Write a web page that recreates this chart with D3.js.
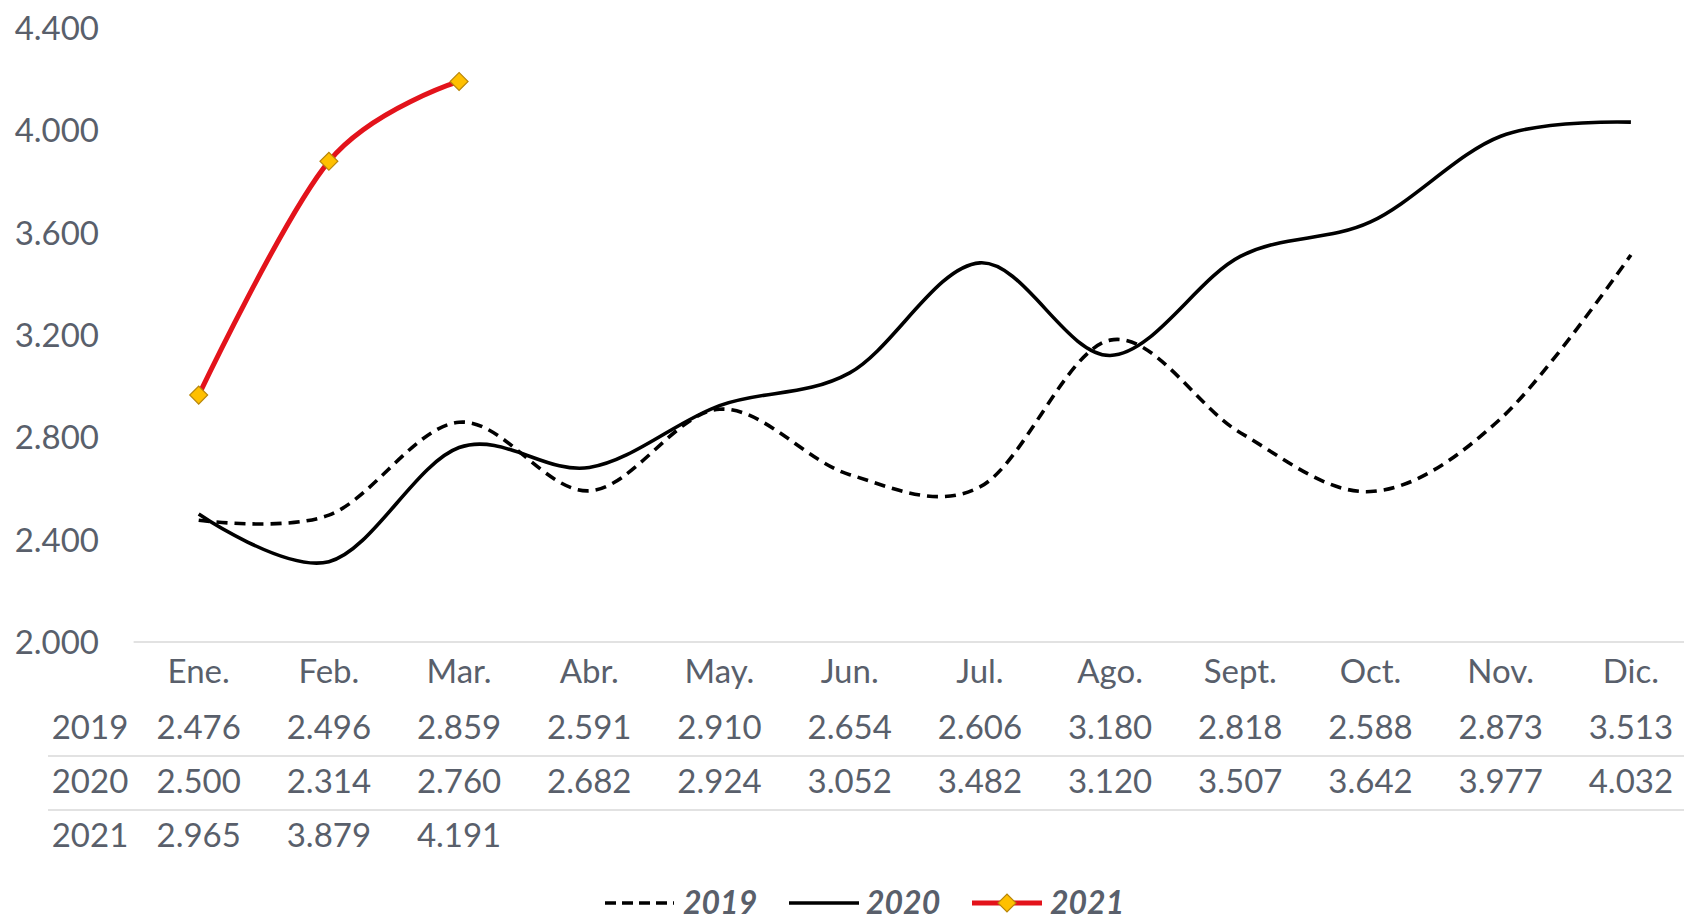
<!DOCTYPE html>
<html>
<head>
<meta charset="utf-8">
<script src="https://cdn.jsdelivr.net/npm/d3@7"></script>
<style>
  html, body { margin: 0; padding: 0; background: #fff; overflow: hidden; }
  svg { display: block; font-family: Lato, "Open Sans", "Liberation Sans", sans-serif; }
</style>
</head>
<body>
<svg id="chart" width="1684" height="922"></svg>
<script>
const months = ["Ene.", "Feb.", "Mar.", "Abr.", "May.", "Jun.", "Jul.", "Ago.", "Sept.", "Oct.", "Nov.", "Dic."];
const values2019 = [2476, 2496, 2859, 2591, 2910, 2654, 2606, 3180, 2818, 2588, 2873, 3513];
const values2020 = [2500, 2314, 2760, 2682, 2924, 3052, 3482, 3120, 3507, 3642, 3977, 4032];
const values2021 = [2965, 3879, 4191];
const seriesNames = ["2019", "2020", "2021"];
const yTicks = [2000, 2400, 2800, 3200, 3600, 4000, 4400];

const locale = d3.formatLocale({ decimal: ",", thousands: ".", grouping: [3], currency: ["$", ""] });
const fmt = locale.format(",");

const svg = d3.select("#chart");
const textColor = "#595f6b";
const gridColor = "#d9d9d9";

const x = d3.scaleBand().domain(months).range([133.6, 1696]).padding(0);
const cx = m => x(m) + x.bandwidth() / 2;
const y = d3.scaleLinear().domain([2000, 4400]).range([642, 28]);

// Y axis labels
const yAxis = d3.axisLeft(y).tickValues(yTicks).tickFormat(fmt).tickSize(0).tickPadding(0);
const yg = svg.append("g").attr("transform", "translate(99,0)").call(yAxis);
yg.select(".domain").remove();
yg.selectAll("text").attr("fill", textColor).style("font-size", "33px").style("font-family", "Lato, 'Open Sans', sans-serif").attr("dy", "0.35em");

// X axis base line
svg.append("line").attr("x1", 133.6).attr("x2", 1684).attr("y1", y(2000)).attr("y2", y(2000))
  .attr("stroke", gridColor).attr("stroke-width", 1.5);

// Data table
const rowY = { header: 671, "2019": 727, "2020": 781, "2021": 835 };
const seriesData = { "2019": values2019, "2020": values2020, "2021": values2021 };

svg.append("g").selectAll("text").data(months).join("text")
  .attr("x", d => cx(d)).attr("y", rowY.header).attr("dy", "0.35em")
  .attr("text-anchor", "middle").attr("fill", textColor).style("font-size", "33px")
  .text(d => d);

[756, 810].forEach(ly => {
  svg.append("line").attr("x1", 48).attr("x2", 1684).attr("y1", ly).attr("y2", ly)
    .attr("stroke", gridColor).attr("stroke-width", 1.5);
});

seriesNames.forEach(name => {
  const g = svg.append("g");
  g.append("text").attr("x", 90).attr("y", rowY[name]).attr("dy", "0.35em")
    .attr("text-anchor", "middle").attr("fill", textColor).style("font-size", "33px").text(name);
  g.selectAll("text.v").data(seriesData[name]).join("text").attr("class", "v")
    .attr("x", (d, i) => cx(months[i])).attr("y", rowY[name]).attr("dy", "0.35em")
    .attr("text-anchor", "middle").attr("fill", textColor).style("font-size", "33px")
    .text(d => fmt(d));
});

// Lines
const line = d3.line().x((d, i) => cx(months[i])).y(d => y(d)).curve(d3.curveCardinal.tension(0));

svg.append("path").datum(values2019).attr("d", line).attr("fill", "none")
  .attr("stroke", "#000").attr("stroke-width", 3.6).attr("stroke-dasharray", "11,7");
svg.append("path").datum(values2020).attr("d", line).attr("fill", "none")
  .attr("stroke", "#000").attr("stroke-width", 3.6);
svg.append("path").datum(values2021).attr("d", line).attr("fill", "none")
  .attr("stroke", "#e3131b").attr("stroke-width", 5);

const diamond = d3.symbol().type(d3.symbolSquare).size(160);
svg.append("g").selectAll("path").data(values2021).join("path")
  .attr("d", diamond)
  .attr("transform", (d, i) => `translate(${cx(months[i])},${y(d)}) rotate(45)`)
  .attr("fill", "#ffc000").attr("stroke", "#b8860b").attr("stroke-width", 1.2);

// Legend
const legY = 903;
const leg = svg.append("g");
const legItems = [
  { name: "2019", x1: 605, x2: 674, tx: 683, dash: "11,6", color: "#000", w: 3.6, marker: false },
  { name: "2020", x1: 789, x2: 859, tx: 866, dash: null, color: "#000", w: 3.6, marker: false },
  { name: "2021", x1: 972, x2: 1042, tx: 1050, dash: null, color: "#e3131b", w: 5, marker: true }
];
legItems.forEach(it => {
  leg.append("line").attr("x1", it.x1).attr("x2", it.x2).attr("y1", legY).attr("y2", legY)
    .attr("stroke", it.color).attr("stroke-width", it.w).attr("stroke-dasharray", it.dash);
  if (it.marker) {
    leg.append("path").attr("d", diamond)
      .attr("transform", `translate(${(it.x1 + it.x2) / 2},${legY}) rotate(45)`)
      .attr("fill", "#ffc000").attr("stroke", "#b8860b").attr("stroke-width", 1.2);
  }
  leg.append("text").attr("x", it.tx).attr("y", legY).attr("dy", "0.35em")
    .attr("fill", textColor).style("font-size", "32px").style("font-weight", "bold").style("font-style", "italic")
    .text(it.name);
});
</script>
</body>
</html>
